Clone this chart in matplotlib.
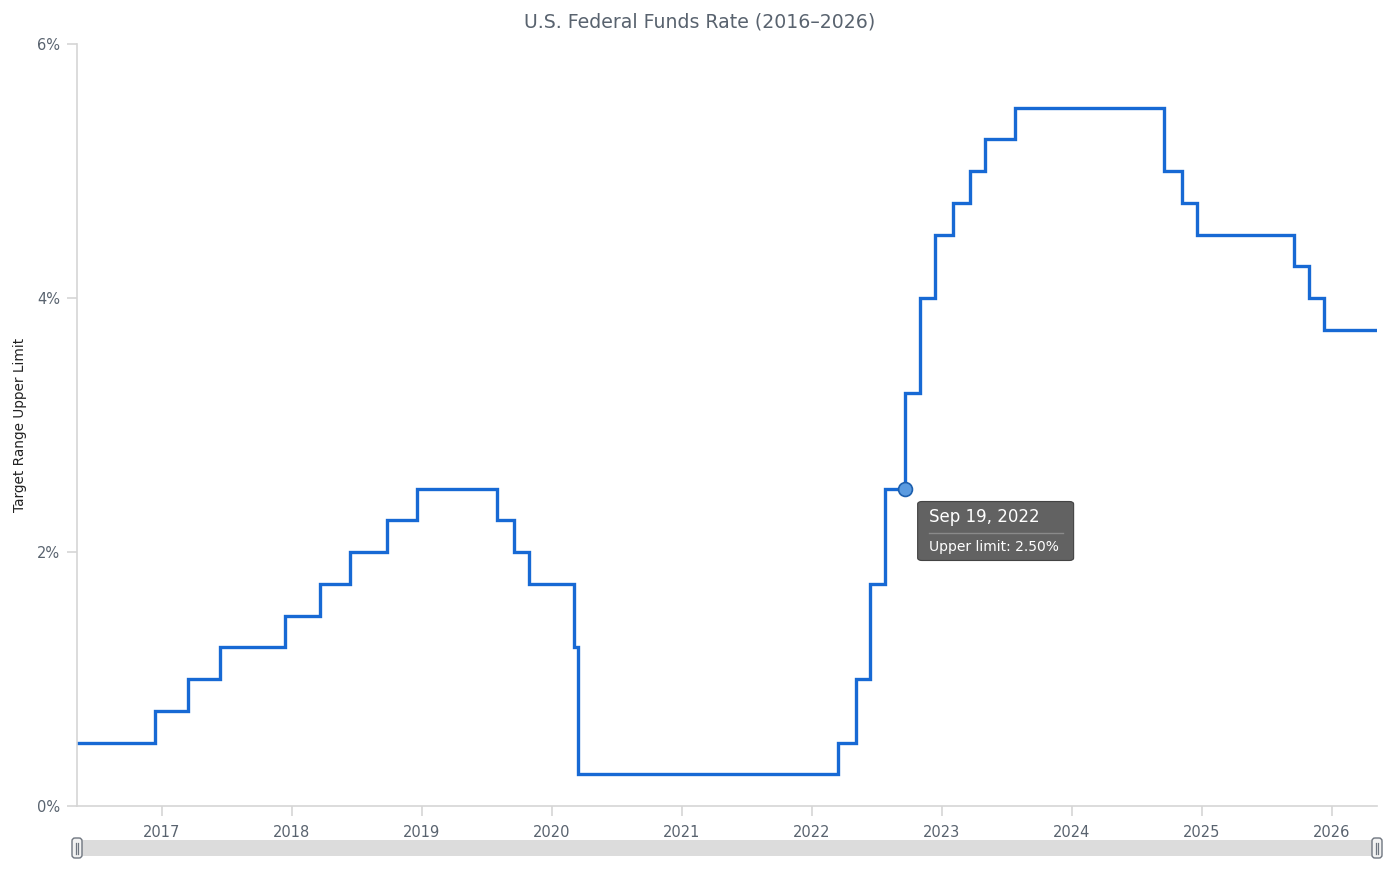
import matplotlib
matplotlib.use("Agg")
import matplotlib.pyplot as plt
import matplotlib.dates as mdates
from matplotlib.patches import FancyBboxPatch
from matplotlib.lines import Line2D
import numpy as np

# Fed funds target range upper limit, change dates
change_dates = [
    "2016-05-08", "2016-12-14", "2017-03-15", "2017-06-14", "2017-12-13",
    "2018-03-21", "2018-06-13", "2018-09-26", "2018-12-19", "2019-07-31",
    "2019-09-18", "2019-10-30", "2020-03-03", "2020-03-16", "2022-03-16",
    "2022-05-04", "2022-06-15", "2022-07-27", "2022-09-21", "2022-11-02",
    "2022-12-14", "2023-02-01", "2023-03-22", "2023-05-03", "2023-07-26",
    "2024-09-18", "2024-11-07", "2024-12-18", "2025-09-17", "2025-10-29",
    "2025-12-10", "2026-05-08",
]
upper_limit = [
    0.50, 0.75, 1.00, 1.25, 1.50,
    1.75, 2.00, 2.25, 2.50, 2.25,
    2.00, 1.75, 1.25, 0.25, 0.50,
    1.00, 1.75, 2.50, 3.25, 4.00,
    4.50, 4.75, 5.00, 5.25, 5.50,
    5.00, 4.75, 4.50, 4.25, 4.00,
    3.75, 3.75,
]
x_start, x_end = "2016-05-08", "2026-05-08"
year_ticks = [str(y) for y in range(2017, 2027)]
y_ticks = [0, 2, 4, 6]

hover_date = "2022-09-19"
hover_value = 2.50

LINE = "#1769d4"
GRID = "#d5d5d5"
TXT = "#59636f"
W, H = 1400, 875

dates = np.array(change_dates, dtype="datetime64[D]")

fig = plt.figure(figsize=(14, 8.75), dpi=100)
ax = fig.add_axes([77 / W, 1 - 806 / H, 1300 / W, 762 / H])

ax.plot(dates, upper_limit, drawstyle="steps-post", color=LINE, lw=2.4, solid_joinstyle="miter")
ax.set_xlim(np.datetime64(x_start), np.datetime64(x_end))
ax.set_ylim(0, 6)

ax.set_xticks([np.datetime64(f"{y}-01-01") for y in year_ticks])
ax.xaxis.set_major_formatter(mdates.DateFormatter("%Y"))
ax.set_yticks(y_ticks)
ax.set_yticklabels([f"{v}%" for v in y_ticks])

for side in ["top", "right"]:
    ax.spines[side].set_visible(False)
for side in ["left", "bottom"]:
    ax.spines[side].set_color(GRID)
    ax.spines[side].set_linewidth(1.2)
ax.tick_params(axis="both", colors=GRID, labelcolor=TXT, labelsize=10.5, length=7, width=1.2)
ax.tick_params(axis="x", pad=7)
ax.tick_params(axis="y", pad=5)

ax.set_ylabel("Target Range Upper Limit", fontsize=9.8, color="#222222")
ax.yaxis.set_label_coords(-50 / 1300, 0.5)
fig.text(0.5, 1 - 22 / H, "U.S. Federal Funds Rate (2016\u20132026)", ha="center", va="center",
         fontsize=13.6, color=TXT)

# hover marker and tooltip
hx = np.datetime64(hover_date)
ax.plot([hx], [hover_value], "o", ms=10, mfc="#5b9be0", mec="#1d5fae", mew=1.2, zorder=5)

fig.canvas.draw()
px, py = ax.transData.transform((mdates.date2num(hx), hover_value))
bx0, by_top = px + 13, py - 13
bw, bh = 156, 59
box = FancyBboxPatch((bx0 / W, (by_top - bh) / H), bw / W, bh / H,
                     boxstyle="round,pad=0,rounding_size=0.003", transform=fig.transFigure,
                     fc="#555555", ec="#3a3a3a", lw=0.8, alpha=0.92, zorder=10)
fig.patches.append(box)
date_label = np.datetime64(hover_date).astype(object)
fig.text((bx0 + 11) / W, (by_top - 16) / H, date_label.strftime("%b %d, %Y").replace(" 0", " "),
         fontsize=12, color="white", va="center", ha="left", zorder=11)
fig.add_artist(Line2D([(bx0 + 11) / W, (bx0 + bw - 11) / W], [(by_top - 31) / H] * 2,
                      transform=fig.transFigure, color="#8a8a8a", lw=1, zorder=11))
fig.text((bx0 + 11) / W, (by_top - 46) / H, f"Upper limit: {hover_value:.2f}%",
         fontsize=10, color="white", va="center", ha="left", zorder=11)

# scrollbar below the axis
sb = fig.add_axes([77 / W, 1 - 856 / H, 1300 / W, 16 / H])
sb.set_xlim(0, 1300)
sb.set_ylim(0, 16)
sb.axis("off")
sb.add_patch(plt.Rectangle((0, 0), 1300, 16, fc="#dcdcdc", ec="none"))
for hxp in [0.0, 1300.0]:
    sb.add_patch(FancyBboxPatch((hxp - 5, -2), 10, 20,
                                boxstyle="round,pad=0,rounding_size=3",
                                fc="#f2f2f2", ec="#6f7680", lw=1.0, clip_on=False, zorder=3))
    for off in (-1.4, 1.4):
        sb.plot([hxp + off] * 2, [2.5, 13.5], color="#6f7680", lw=0.9, clip_on=False, zorder=4)

fig.savefig("out.png", dpi=100)
